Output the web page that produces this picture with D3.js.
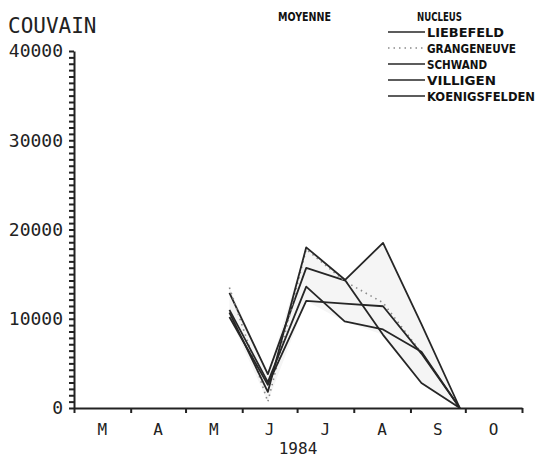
<!DOCTYPE html>
<html>
<head>
<meta charset="utf-8">
<style>
body { margin: 0; background: #fff; }
svg { display: block; }
.lbl { font-family: "DejaVu Sans Mono", monospace; fill: #222; }
.leg { font-family: "DejaVu Sans Condensed", "DejaVu Sans", sans-serif; font-weight: bold; fill: #111; }
.axis path, .axis line { stroke: #222; stroke-width: 2; }
</style>
</head>
<body>
<script src="https://cdn.jsdelivr.net/npm/d3@7"></script>
<script>
// sampling dates (every 3 weeks), 1984
var dates = ["1984-05-25", "1984-06-15", "1984-07-06", "1984-07-27", "1984-08-17", "1984-09-07", "1984-09-28"];

// brood counts per apiary
var liebefeld     = [12900, 3800, 15700, 14300, 18500, 9400, 0];
var grangeneuve   = [13500,  700, 17800, 14200, 11800, 6200, 0];
var schwand       = [10700, 1800, 18000, 14400,  8200, 2800, 0];
var villigen      = [11000, 2900, 13600,  9700,  8800, 6300, 0];
var koenigsfelden = [10200, 2600, 12000, 11700, 11400, 6100, 0];

var seriesNames = ["LIEBEFELD", "GRANGENEUVE", "SCHWAND", "VILLIGEN", "KOENIGSFELDEN"];
var seriesVals = [liebefeld, grangeneuve, schwand, villigen, koenigsfelden];

var monthLabels = ["M", "A", "M", "J", "J", "A", "S", "O"];
var yLabels = [0, 10000, 20000, 30000, 40000];

var width = 538, height = 458;
var parse = d3.timeParse("%Y-%m-%d");

var x = d3.scaleTime()
  .domain([parse("1984-03-01"), parse("1984-11-01")])
  .range([74, 522]);
var y = d3.scaleLinear().domain([0, 40000]).range([408, 51]);

var svg = d3.select("body").append("svg")
  .attr("width", width)
  .attr("height", height);

var series = seriesNames.map(function(n, i) {
  return {name: n, values: seriesVals[i].map(function(v, j) { return {date: parse(dates[j]), v: v}; })};
});

// shaded band (moyenne) : envelope of all series
var band = dates.map(function(d, j) {
  var vs = seriesVals.map(function(s) { return s[j]; });
  return {date: parse(d), lo: d3.min(vs), hi: d3.max(vs)};
});
svg.append("path")
  .datum(band)
  .attr("fill", "#f5f5f5")
  .attr("d", d3.area()
    .x(function(d) { return x(d.date); })
    .y0(function(d) { return y(d.lo); })
    .y1(function(d) { return y(d.hi); }));

// axes
var minor = d3.range(0, 57).map(function(i) { return i * 40000 / 56; });
svg.append("g")
  .attr("class", "axis")
  .attr("transform", "translate(74,0)")
  .call(d3.axisLeft(y).tickValues(minor).tickSize(5).tickSizeOuter(0).tickFormat(""));

svg.append("g")
  .attr("class", "axis")
  .attr("transform", "translate(0,408)")
  .call(d3.axisBottom(x).ticks(d3.timeMonth.every(1)).tickSize(5).tickSizeOuter(0).tickFormat(""));

svg.selectAll(".ylab")
  .data(yLabels)
  .enter().append("text")
  .attr("class", "lbl")
  .attr("x", 63)
  .attr("y", function(d) { return y(d); })
  .attr("dy", "0.36em")
  .attr("text-anchor", "end")
  .style("font-size", "18px")
  .text(function(d) { return d; });

var months = d3.timeMonth.range(parse("1984-03-01"), parse("1984-11-01"));
svg.selectAll(".xlab")
  .data(months)
  .enter().append("text")
  .attr("class", "lbl")
  .attr("x", function(d) { return (x(d) + x(d3.timeMonth.offset(d, 1))) / 2; })
  .attr("y", 435)
  .attr("text-anchor", "middle")
  .style("font-size", "16px")
  .text(function(d, i) { return monthLabels[i]; });

svg.append("text")
  .attr("class", "lbl")
  .attr("x", 298)
  .attr("y", 454)
  .attr("text-anchor", "middle")
  .style("font-size", "16px")
  .text("1984");

svg.append("text")
  .attr("class", "lbl")
  .attr("x", 8)
  .attr("y", 33)
  .style("font-size", "21px")
  .text("COUVAIN");

// lines
var line = d3.line()
  .x(function(d) { return x(d.date); })
  .y(function(d) { return y(d.v); });

svg.selectAll(".series")
  .data(series)
  .enter().append("path")
  .attr("fill", "none")
  .attr("stroke", function(d) { return d.name == "GRANGENEUVE" ? "#8a8a8a" : "#262626"; })
  .attr("stroke-width", function(d) { return d.name == "GRANGENEUVE" ? 1.6 : 1.8; })
  .attr("stroke-dasharray", function(d) { return d.name == "GRANGENEUVE" ? "1.5,4" : null; })
  .attr("stroke-linejoin", "round")
  .attr("d", function(d) { return line(d.values); });

// legend
svg.append("text").attr("class", "leg")
  .attr("x", 278).attr("y", 20.5)
  .attr("textLength", 53).attr("lengthAdjust", "spacingAndGlyphs")
  .style("font-size", "12px").text("MOYENNE");
svg.append("text").attr("class", "leg")
  .attr("x", 417).attr("y", 20.5)
  .attr("textLength", 45).attr("lengthAdjust", "spacingAndGlyphs")
  .style("font-size", "12px").text("NUCLEUS");

var legWidths = [77, 89, 60, 69, 108];
var leg = svg.selectAll(".legrow")
  .data(series)
  .enter().append("g")
  .attr("transform", function(d, i) { return "translate(0," + (32 + i * 16) + ")"; });

leg.append("line")
  .attr("x1", 388).attr("x2", 425)
  .attr("stroke", function(d) { return d.name == "GRANGENEUVE" ? "#8a8a8a" : "#262626"; })
  .attr("stroke-width", 1.6)
  .attr("stroke-dasharray", function(d) { return d.name == "GRANGENEUVE" ? "1.5,4" : null; });

leg.append("text")
  .attr("class", "leg")
  .attr("x", 427)
  .attr("y", 5)
  .attr("textLength", function(d, i) { return legWidths[i]; })
  .attr("lengthAdjust", "spacingAndGlyphs")
  .style("font-size", "13px")
  .text(function(d) { return d.name; });
</script>
</body>
</html>
